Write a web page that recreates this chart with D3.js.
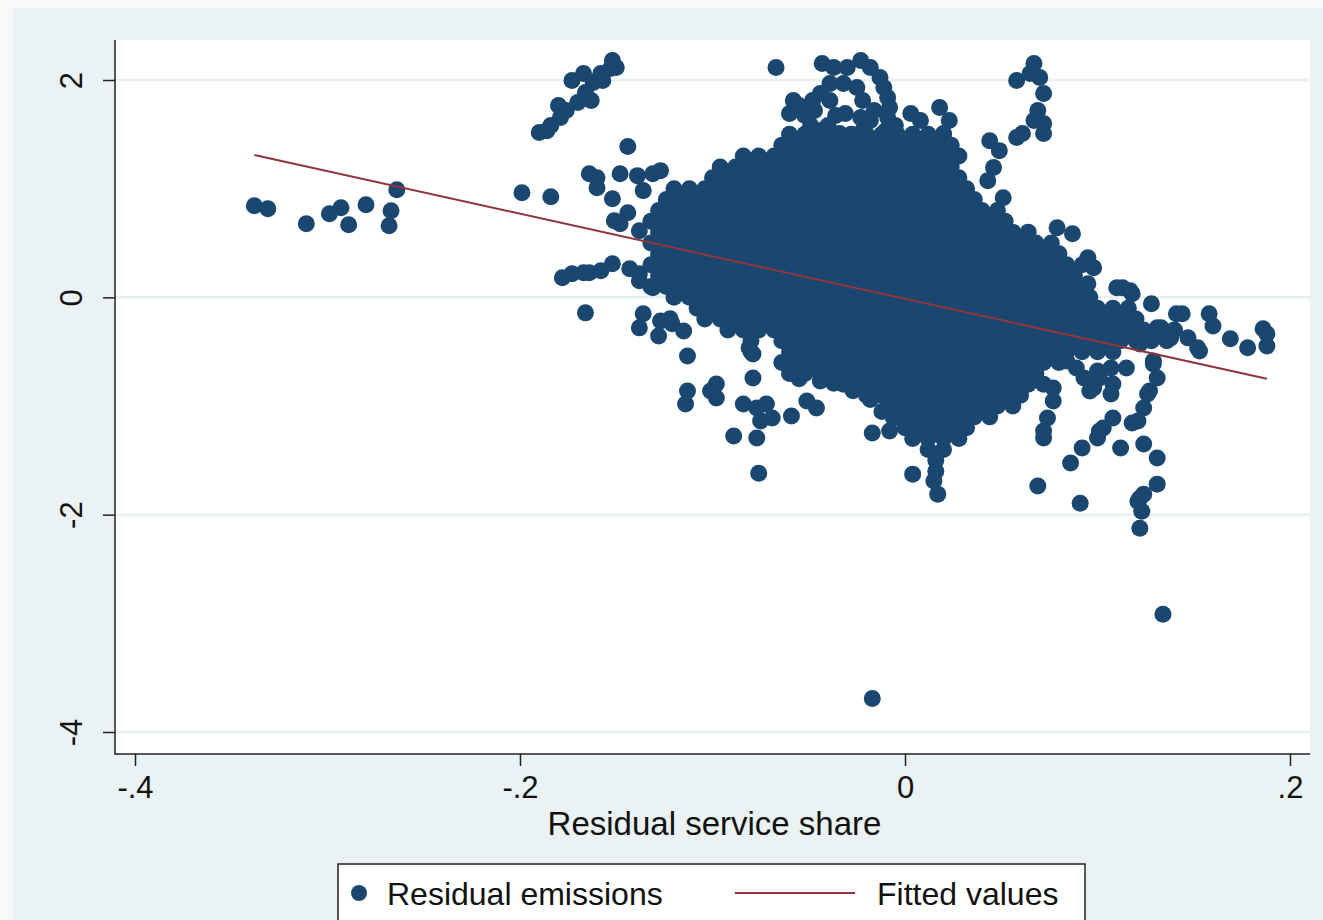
<!DOCTYPE html>
<html>
<head>
<meta charset="utf-8">
<script src="https://cdn.jsdelivr.net/npm/d3@7"></script>
<style>
  html, body { margin: 0; padding: 0; background: #f6f8f9; }
  svg { display: block; font-family: "Liberation Sans", Arial, Helvetica, sans-serif; }
</style>
</head>
<body>
<svg id="chart" width="1323" height="920"></svg>
<script>
// Axis ticks
const xTickValues = [-0.4, -0.2, 0, 0.2];
const xTickLabels = ["-.4", "-.2", "0", ".2"];
const yTickValues = [-4, -2, 0, 2];
const yTickLabels = ["-4", "-2", "0", "2"];

// Linear fit (endpoints at min and max of the service-share residual)
const fittedX = [-0.338, 0.188];
const fittedY = [1.31, -0.75];

// Residual emissions vs residual service share: scattered observations
const outlyingPoints = [
  [-0.338,0.843],[-0.331,0.816],[-0.311,0.677],[-0.299,0.770],[-0.293,0.825],[-0.289,0.668],
  [-0.280,0.853],[-0.267,0.797],[-0.268,0.659],[-0.264,0.991],[-0.199,0.963],[-0.184,0.926],
  [-0.190,1.516],[-0.186,1.534],[-0.184,1.581],[-0.179,1.654],[-0.180,1.765],[-0.176,1.719],
  [-0.170,1.793],[-0.173,1.995],[-0.167,2.060],[-0.162,1.977],[-0.163,1.811],[-0.166,1.884],
  [-0.158,2.060],[-0.153,2.106],[-0.152,2.180],[-0.150,2.115],[-0.157,1.995],[-0.144,1.387],
  [-0.164,1.138],[-0.160,1.009],[-0.160,1.101],[-0.148,1.138],[-0.152,0.908],[-0.151,0.705],
  [-0.144,0.779],[-0.148,0.677],[-0.139,1.120],[-0.136,0.982],[-0.131,1.138],[-0.127,1.166],
  [-0.138,0.613],
  [-0.178,0.180],[-0.173,0.217],[-0.167,0.226],[-0.164,0.226],[-0.158,0.244],[-0.152,0.309],
  [-0.143,0.263],[-0.138,0.217],[-0.138,0.152],[-0.131,0.088],
  [-0.166,-0.143],[-0.136,-0.152],[-0.138,-0.281],[-0.127,-0.217],[-0.121,-0.244],[-0.115,-0.309],
  [-0.128,-0.355],[-0.122,-0.198],[-0.113,-0.539],[-0.081,-0.465],[-0.079,-0.521],
  [-0.113,-0.862],[-0.114,-0.982],[-0.098,-0.797],[-0.098,-0.926],[-0.101,-0.862],
  [-0.079,-0.742],[-0.084,-0.982],[-0.077,-1.018],[-0.072,-0.982],[-0.075,-1.138],[-0.069,-1.111],
  [-0.077,-1.295],[-0.089,-1.276],[-0.059,-1.092],[-0.051,-0.954],[-0.046,-1.018],
  [-0.055,-0.750],[-0.044,-0.770],[-0.037,-0.790],[-0.027,-0.860],[-0.018,-0.940],[-0.012,-1.050],
  [-0.017,-1.249],[-0.008,-1.230],[-0.006,-1.111],[-0.076,-1.618],
  [0.095,0.364],[0.098,0.272],[0.095,0.124],[0.113,0.088],[0.110,0.088],[0.117,0.060],
  [0.118,0.032],[0.128,-0.060],[0.141,-0.152],[0.144,-0.152],[0.158,-0.152],[0.160,-0.263],
  [0.131,-0.281],[0.138,-0.373],[0.133,-0.281],[0.139,-0.309],[0.147,-0.373],[0.152,-0.465],
  [0.153,-0.493],[0.169,-0.382],[0.178,-0.465],[0.188,-0.336],[0.188,-0.447],[0.186,-0.290],
  [0.122,-0.429],[0.129,-0.585],[0.131,-0.742],[0.127,-0.862],[0.124,-1.018],[0.121,-1.138],
  [0.129,-0.613],[0.126,-0.889],[0.118,-1.157],
  [0.115,-0.650],[0.107,-0.650],[0.108,-0.797],[0.107,-0.889],[0.098,-0.834],[0.093,-0.742],
  [0.100,-0.677],[0.101,-0.742],[0.096,-0.862],[0.089,-0.650],[0.084,-0.585],
  [0.108,-1.111],[0.103,-1.203],[0.101,-1.230],[0.100,-1.295],[0.092,-1.387],[0.086,-1.525],
  [0.112,-1.387],[0.124,-1.350],[0.131,-1.479],
  [0.131,-1.719],[0.124,-1.811],[0.121,-1.876],[0.123,-1.968],[0.122,-1.848],[0.122,-2.124],
  [0.069,-1.737],[0.091,-1.894],
  [0.077,-0.834],[0.077,-0.954],[0.074,-1.111],[0.072,-1.295],[0.072,-1.230],
  [0.004,-1.627],[0.015,-1.691],[0.017,-1.811],
  [0.134,-2.917],[-0.017,-3.691],
  [-0.067,2.115],[-0.043,2.152],[-0.037,2.115],[-0.030,2.115],[-0.023,2.180],[-0.018,2.115],
  [-0.013,2.023],[-0.011,1.931],[-0.009,1.839],[-0.008,1.747],[-0.009,1.654],
  [-0.058,1.811],[-0.060,1.691],[-0.055,1.765],[-0.048,1.811],[-0.044,1.876],[-0.039,1.968],
  [-0.032,1.968],[-0.025,1.931],[-0.022,1.811],[-0.023,1.654],[-0.031,1.691],
  [-0.034,1.507],[-0.029,1.470],[-0.022,1.535],[-0.018,1.627],[-0.016,1.719],[-0.052,1.673],
  [-0.047,1.719],[-0.039,1.811],[-0.036,1.673],[-0.040,1.581],[-0.049,1.581],[-0.044,1.535],
  [0.003,1.691],[0.008,1.627],[0.018,1.747],[0.023,1.627],[0.020,1.507],[0.011,1.470],
  [0.004,1.442],[-0.005,1.581],[-0.010,1.535],
  [0.044,1.442],[0.049,1.350],[0.058,1.470],[0.061,1.507],[0.046,1.194],[0.043,1.074],[0.051,0.917],
  [0.058,1.995],[0.065,2.060],[0.067,2.152],[0.070,2.023],[0.072,1.876],[0.069,1.719],
  [0.072,1.599],[0.072,1.507],[0.067,1.627],
  [0.079,0.640],[0.087,0.585]
];

// The heavily overplotted core, listed row by row: [residual emissions, [service-share values]]
const denseRows = [
  [1.5, [-.06,-.052,-.044,-.036,-.028,-.02,-.012,-.004,.004,.012,.02]],
  [1.4, [-.064,-.056,-.048,-.04,-.032,-.024,-.016,-.008,0,.008,.016,.024]],
  [1.3, [-.084,-.076,-.068,-.06,-.052,-.044,-.036,-.028,-.02,-.012,-.004,.004,.012,.02,.028]],
  [1.2, [-.096,-.088,-.08,-.072,-.064,-.056,-.048,-.04,-.032,-.024,-.016,-.008,0,.008,.016,.024]],
  [1.1, [-.1,-.092,-.084,-.076,-.068,-.06,-.052,-.044,-.036,-.028,-.02,-.012,-.004,.004,.012,.02,.028]],
  [1.0, [-.12,-.112,-.104,-.096,-.088,-.08,-.072,-.064,-.056,-.048,-.04,-.032,-.024,-.016,-.008,0,.008,.016,.024,.032]],
  [0.9, [-.124,-.116,-.108,-.1,-.092,-.084,-.076,-.068,-.06,-.052,-.044,-.036,-.028,-.02,-.012,-.004,.004,.012,.02,.028,.036]],
  [0.8, [-.128,-.12,-.112,-.104,-.096,-.088,-.08,-.072,-.064,-.056,-.048,-.04,-.032,-.024,-.016,-.008,0,.008,.016,.024,.032,.04,.048]],
  [0.7, [-.132,-.124,-.116,-.108,-.1,-.092,-.084,-.076,-.068,-.06,-.052,-.044,-.036,-.028,-.02,-.012,-.004,.004,.012,.02,.028,.036,.044,.052]],
  [0.6, [-.128,-.12,-.112,-.104,-.096,-.088,-.08,-.072,-.064,-.056,-.048,-.04,-.032,-.024,-.016,-.008,0,.008,.016,.024,.032,.04,.048,.056,.064]],
  [0.5, [-.132,-.124,-.116,-.108,-.1,-.092,-.084,-.076,-.068,-.06,-.052,-.044,-.036,-.028,-.02,-.012,-.004,.004,.012,.02,.028,.036,.044,.052,.06,.068,.076]],
  [0.4, [-.128,-.12,-.112,-.104,-.096,-.088,-.08,-.072,-.064,-.056,-.048,-.04,-.032,-.024,-.016,-.008,0,.008,.016,.024,.032,.04,.048,.056,.064,.072,.08]],
  [0.3, [-.132,-.124,-.116,-.108,-.1,-.092,-.084,-.076,-.068,-.06,-.052,-.044,-.036,-.028,-.02,-.012,-.004,.004,.012,.02,.028,.036,.044,.052,.06,.068,.076,.084,.092]],
  [0.2, [-.128,-.12,-.112,-.104,-.096,-.088,-.08,-.072,-.064,-.056,-.048,-.04,-.032,-.024,-.016,-.008,0,.008,.016,.024,.032,.04,.048,.056,.064,.072,.08,.088]],
  [0.1, [-.132,-.124,-.116,-.108,-.1,-.092,-.084,-.076,-.068,-.06,-.052,-.044,-.036,-.028,-.02,-.012,-.004,.004,.012,.02,.028,.036,.044,.052,.06,.068,.076,.084,.092]],
  [0.0, [-.12,-.112,-.104,-.096,-.088,-.08,-.072,-.064,-.056,-.048,-.04,-.032,-.024,-.016,-.008,0,.008,.016,.024,.032,.04,.048,.056,.064,.072,.08,.088,.096]],
  [-0.1, [-.108,-.1,-.092,-.084,-.076,-.068,-.06,-.052,-.044,-.036,-.028,-.02,-.012,-.004,.004,.012,.02,.028,.036,.044,.052,.06,.068,.076,.084,.092,.1,.108,.116]],
  [-0.2, [-.104,-.096,-.088,-.08,-.072,-.064,-.056,-.048,-.04,-.032,-.024,-.016,-.008,0,.008,.016,.024,.032,.04,.048,.056,.064,.072,.08,.088,.096,.104,.112,.12]],
  [-0.3, [-.092,-.084,-.076,-.068,-.06,-.052,-.044,-.036,-.028,-.02,-.012,-.004,.004,.012,.02,.028,.036,.044,.052,.06,.068,.076,.084,.092,.1,.108,.116,.124,.132,.14]],
  [-0.4, [-.08,-.064,-.056,-.048,-.04,-.032,-.024,-.016,-.008,0,.008,.016,.024,.032,.04,.048,.056,.064,.072,.08,.088,.096,.104,.112,.12,.128,.136]],
  [-0.5, [-.08,-.06,-.052,-.044,-.036,-.028,-.02,-.012,-.004,.004,.012,.02,.028,.036,.044,.052,.06,.068,.076,.084,.092,.1,.108]],
  [-0.6, [-.064,-.056,-.048,-.04,-.032,-.024,-.016,-.008,0,.008,.016,.024,.032,.04,.048,.056,.064,.072,.08]],
  [-0.7, [-.06,-.052,-.044,-.036,-.028,-.02,-.012,-.004,.004,.012,.02,.028,.036,.044,.052,.06,.068]],
  [-0.8, [-.032,-.024,-.016,-.008,0,.008,.016,.024,.032,.04,.048,.056,.064,.072]],
  [-0.9, [-.02,-.012,-.004,.004,.012,.02,.028,.036,.044,.052,.06]],
  [-1.0, [-.008,0,.008,.016,.024,.032,.04,.048,.056]],
  [-1.1, [-.004,.004,.012,.02,.028,.036,.044]],
  [-1.2, [0,.008,.016,.024,.032]],
  [-1.3, [.004,.012,.02,.028]],
  [-1.4, [.012,.02]],
  [-1.5, [.016]],
  [-1.6, [.016]]
];

const legendLabels = ["Residual emissions", "Fitted values"];
const axisTitleX = "Residual service share";

// ---- drawing ----
const navy = "#1a476f";
const maroon = "#90353b";
const svg = d3.select("#chart");
const plot = { left: 115, right: 1310, top: 40, bottom: 754 };

const x = d3.scaleLinear().domain([-0.4, 0.2]).range([135, 1290]);
const y = d3.scaleLinear().domain([-4, 2]).range([732, 80]);

// graph region
svg.append("rect").attr("x", 0).attr("y", 0).attr("width", 1323).attr("height", 920).attr("fill", "#f6f8f9");
svg.append("rect").attr("x", 13).attr("y", 8).attr("width", 1310).attr("height", 912).attr("fill", "#eaf2f3");

// plot region
svg.append("rect")
  .attr("x", plot.left).attr("y", plot.top)
  .attr("width", plot.right - plot.left).attr("height", plot.bottom - plot.top)
  .attr("fill", "#ffffff");

// horizontal grid
svg.append("g").selectAll("line").data(yTickValues).join("line")
  .attr("x1", plot.left).attr("x2", plot.right)
  .attr("y1", d => y(d)).attr("y2", d => y(d))
  .attr("stroke", "#e9f0f2").attr("stroke-width", 2.5);

// scatter
const points = outlyingPoints.concat(denseRows.flatMap(([yv, xs]) => xs.map(xv => [xv, yv])));
svg.append("g").selectAll("circle").data(points).join("circle")
  .attr("cx", d => x(d[0])).attr("cy", d => y(d[1])).attr("r", 8.5)
  .attr("fill", navy);

// fitted line
const fitted = fittedX.map((v, i) => [v, fittedY[i]]);
svg.append("path").datum(fitted)
  .attr("d", d3.line().x(d => x(d[0])).y(d => y(d[1])))
  .attr("fill", "none").attr("stroke", maroon).attr("stroke-width", 2);

// axes
const xAxis = d3.axisBottom(x).tickValues(xTickValues)
  .tickFormat((d, i) => xTickLabels[i]).tickSize(12).tickSizeOuter(0);
const gx = svg.append("g").attr("transform", `translate(0,${plot.bottom})`).call(xAxis);
gx.select(".domain").remove();
gx.selectAll(".tick line").attr("stroke", "#222").attr("stroke-width", 1.5);
gx.selectAll(".tick text").attr("y", 44).attr("dy", 0)
  .attr("font-size", 31).attr("fill", "#111").attr("font-family", "Liberation Sans, Arial, sans-serif");

const yAxis = d3.axisLeft(y).tickValues(yTickValues)
  .tickFormat((d, i) => yTickLabels[i]).tickSize(12).tickSizeOuter(0);
const gy = svg.append("g").attr("transform", `translate(${plot.left},0)`).call(yAxis);
gy.select(".domain").remove();
gy.selectAll(".tick line").attr("stroke", "#222").attr("stroke-width", 1.5);
gy.selectAll(".tick text")
  .attr("x", null).attr("dy", 0).attr("text-anchor", "middle")
  .attr("transform", "translate(-33,0) rotate(-90)")
  .attr("font-size", 31).attr("fill", "#111").attr("font-family", "Liberation Sans, Arial, sans-serif");

svg.append("line").attr("x1", plot.left).attr("x2", plot.left)
  .attr("y1", plot.top).attr("y2", plot.bottom + 0.75)
  .attr("stroke", "#222").attr("stroke-width", 1.5);
svg.append("line").attr("x1", plot.left).attr("x2", plot.right)
  .attr("y1", plot.bottom).attr("y2", plot.bottom)
  .attr("stroke", "#222").attr("stroke-width", 1.5);

// axis title
svg.append("text").attr("x", (plot.left + plot.right) / 2 + 2).attr("y", 835)
  .attr("text-anchor", "middle").attr("font-size", 33).attr("fill", "#111")
  .text(axisTitleX);

// legend
const lg = svg.append("g");
lg.append("rect").attr("x", 338).attr("y", 864).attr("width", 747).attr("height", 80)
  .attr("fill", "#ffffff").attr("stroke", "#222").attr("stroke-width", 1.5);
lg.append("circle").attr("cx", 359).attr("cy", 893).attr("r", 8).attr("fill", navy);
lg.append("text").attr("x", 387).attr("y", 905).attr("font-size", 32).attr("fill", "#111")
  .text(legendLabels[0]);
lg.append("line").attr("x1", 735).attr("x2", 855).attr("y1", 893).attr("y2", 893)
  .attr("stroke", maroon).attr("stroke-width", 2);
lg.append("text").attr("x", 877).attr("y", 905).attr("font-size", 32).attr("fill", "#111")
  .text(legendLabels[1]);
</script>
</body>
</html>
